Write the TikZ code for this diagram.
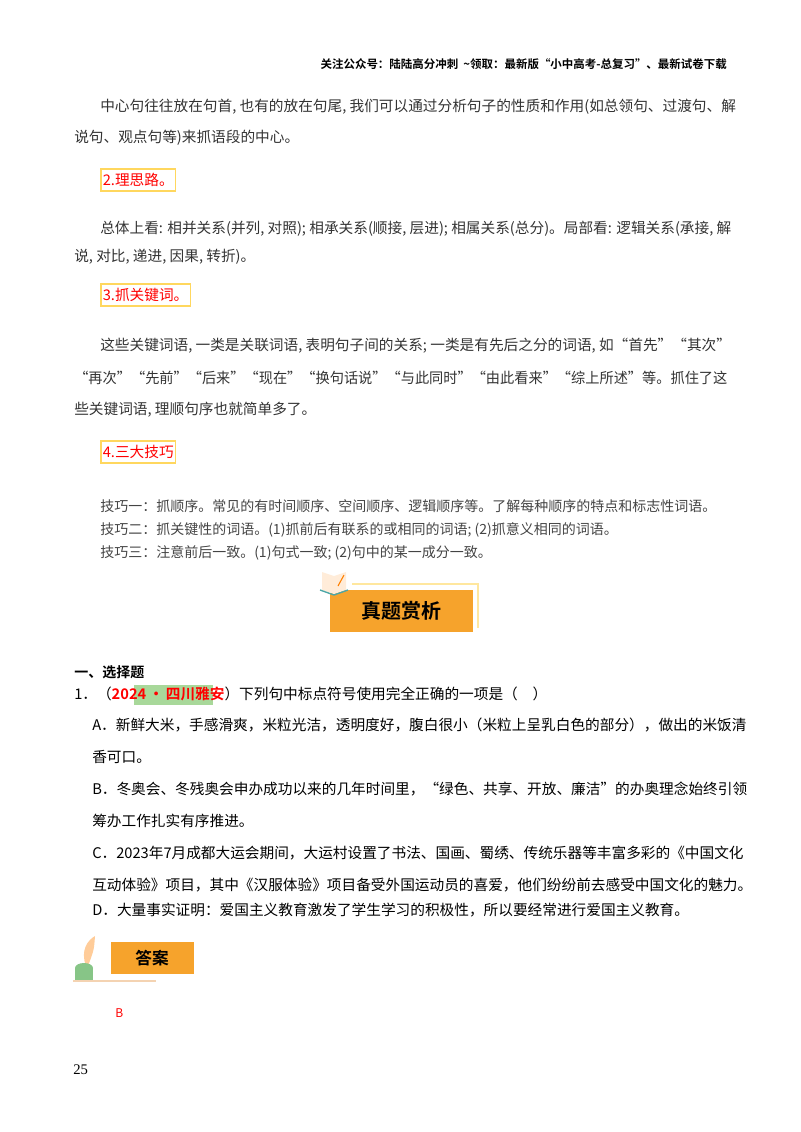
\documentclass[tikz,border=0pt]{standalone}
\usepackage{fontspec}
\usepackage{graphicx}
\setmainfont{Noto Sans CJK SC}
\newfontfamily\cjkb{Noto Sans CJK SC Bold}
\newfontfamily\serifnum{Liberation Serif}
\definecolor{orng}{HTML}{F6A32C}
\definecolor{ybord}{HTML}{FFD75E}
\definecolor{hlg}{HTML}{A8D89A}
\definecolor{txt}{HTML}{333333}
\definecolor{grey}{HTML}{444444}
\tikzset{
 ln/.style={anchor=west,inner sep=0pt,font=\fontsize{11}{13}\selectfont,text=txt},
 tag/.style={anchor=west,draw=ybord,line width=1.2pt,inner xsep=1.5pt,inner ysep=3pt,text=red,font=\fontsize{11}{13}\selectfont},
 gl/.style={ln,text=grey,font=\fontsize{10.5}{12}\selectfont},
 ql/.style={ln,text=black,font=\fontsize{11}{13}\selectfont},
}
\begin{document}
\begin{tikzpicture}[x=0.75pt,y=-0.75pt]
\useasboundingbox (0,0) rectangle (800,1132);
\node[anchor=east,inner sep=0pt,font=\cjkb\fontsize{8.6}{10}\selectfont] (hd) at (727,64) {关注公众号：陆陆高分冲刺\ \ \textasciitilde 领取：最新版“小中高考-总复习”、最新试卷下载};
\node[ln] (p1) at (100,107) {中心句往往放在句首, 也有的放在句尾, 我们可以通过分析句子的性质和作用(如总领句、过渡句、解};
\node[ln] (p2) at (74,138) {说句、观点句等)来抓语段的中心。};
\node[tag] (t2) at (100,180) {2.理思路。};
\node[ln] (p3) at (100,229) {总体上看: 相并关系(并列, 对照); 相承关系(顺接, 层进); 相属关系(总分)。局部看: 逻辑关系(承接, 解};
\node[ln] (p4) at (74,257) {说, 对比, 递进, 因果, 转折)。};
\node[tag] (t3) at (100,295) {3.抓关键词。};
\node[ln] (p5) at (100,346) {这些关键词语, 一类是关联词语, 表明句子间的关系; 一类是有先后之分的词语, 如“首先”“其次”};
\node[ln] (p6) at (74,378) {\scalebox{0.968}[1]{“再次”“先前”“后来”“现在”“换句话说”“与此同时”“由此看来”“综上所述”等。抓住了这}};
\node[ln] (p7) at (74,410) {些关键词语, 理顺句序也就简单多了。};
\node[tag] (t4) at (100,452) {4.三大技巧};
\node[gl] (g1) at (100,506) {技巧一：抓顺序。常见的有时间顺序、空间顺序、逻辑顺序等。了解每种顺序的特点和标志性词语。};
\node[gl] (g2) at (100,530) {技巧二：抓关键性的词语。(1)抓前后有联系的或相同的词语; (2)抓意义相同的词语。};
\node[gl] (g3) at (100,553) {技巧三：注意前后一致。(1)句式一致; (2)句中的某一成分一致。};
% banner
\draw[ybord!60,line width=0.8pt] (352,584) -- (478,584) -- (478,628);
\fill[orng] (330,590) rectangle (473,632);
\node[font=\cjkb\fontsize{15}{17}\selectfont] (bn) at (401,611) {真题赏析};
\fill[white!85!orange] (322,572) -- (334,576) -- (346,572) -- (346,590) -- (334,594) -- (322,590) -- cycle;
\draw[teal!70,line width=1pt] (320,590) -- (334,595) -- (348,590);
\draw[orange,line width=0.8pt] (338,586) -- (344,575);
% questions
\node[ln,text=black,font=\cjkb\fontsize{10.5}{12}\selectfont] (s1) at (74,672) {一、选择题};
\fill[hlg] (134,685) rectangle (213,705);
\node[ql] (q1) at (74,694) {1．（\textcolor{red}{\cjkb 2024\,•\,四川雅安}）下列句中标点符号使用完全正确的一项是（\quad）};
\node[ql] (a1) at (92,725) {A．新鲜大米，手感滑爽，米粒光洁，透明度好，腹白很小（米粒上呈乳白色的部分），做出的米饭清};
\node[ql] (a2) at (92,757) {香可口。};
\node[ql] (b1) at (92,789) {B．冬奥会、冬残奥会申办成功以来的几年时间里，“绿色、共享、开放、廉洁”的办奥理念始终引领};
\node[ql] (b2) at (92,821) {筹办工作扎实有序推进。};
\node[ql] (c1) at (92,853) {C．2023年7月成都大运会期间，大运村设置了书法、国画、蜀绣、传统乐器等丰富多彩的《中国文化};
\node[ql] (c2) at (92,885) {互动体验》项目，其中《汉服体验》项目备受外国运动员的喜爱，他们纷纷前去感受中国文化的魅力。};
\node[ql] (d1) at (92,910) {D．大量事实证明：爱国主义教育激发了学生学习的积极性，所以要经常进行爱国主义教育。};
% answer banner
\fill[orng] (111,942) rectangle (194,974);
\node[font=\cjkb\fontsize{12.5}{14}\selectfont] (an) at (152,958) {答案};
\draw[black!15!orange!30,line width=0.8pt] (73,981) -- (156,981);
\fill[orange!40!white] (86,966) .. controls (80,950) and (88,940) .. (95,936) .. controls (94,950) .. (88,966) -- cycle;
\fill[green!35!gray!70] (75,968) rectangle (93,980);
\fill[green!35!gray!70] (84,968) ellipse (9 and 5);
\node[ln,text=red,font=\fontsize{9}{10}\selectfont] (ans) at (115,1013) {B};
\node[ln,text=black,font=\serifnum\fontsize{11}{13}\selectfont] (pg) at (73,1070) {25};
\end{tikzpicture}
\end{document}
